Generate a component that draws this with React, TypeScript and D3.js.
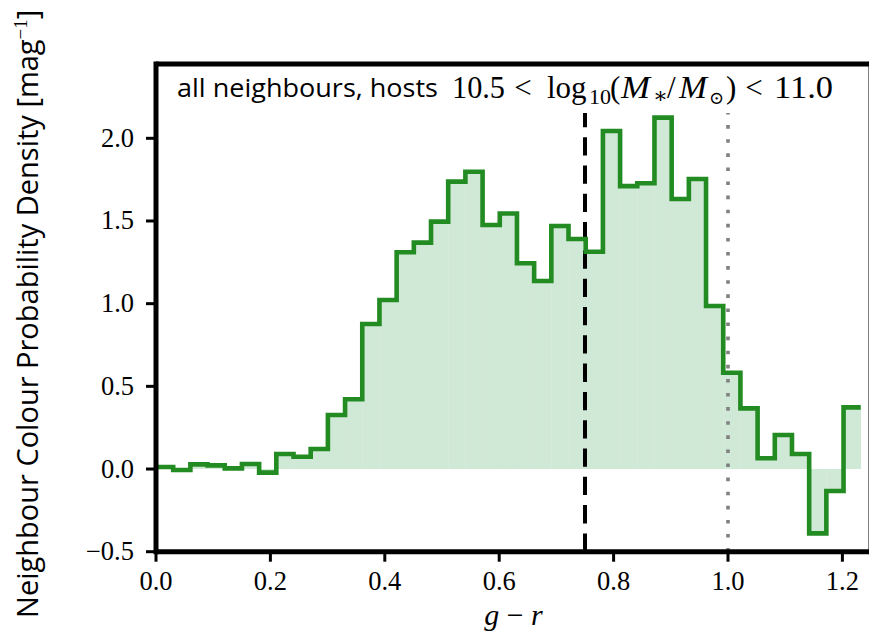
import React from "react";
import * as d3 from "d3";

// Histogram of neighbour g-r colours (probability density per bin)
const BIN_START = 0.0;
const BIN_WIDTH = 0.03005;
const DENSITY = [
  0.012, -0.006, 0.028, 0.022, 0.004, 0.03, -0.022, 0.091, 0.074, 0.121,
  0.327, 0.422, 0.877, 1.022, 1.311, 1.369, 1.496, 1.738, 1.798, 1.476,
  1.545, 1.244, 1.137, 1.47, 1.391, 1.314, 2.044, 1.711, 1.728, 2.125,
  1.633, 1.754, 0.986, 0.582, 0.367, 0.065, 0.206, 0.091, -0.389, -0.133,
  0.373,
];

const X_TICKS = [0.0, 0.2, 0.4, 0.6, 0.8, 1.0, 1.2];
const Y_TICKS = [-0.5, 0.0, 0.5, 1.0, 1.5, 2.0];
const RED_SEQUENCE_CUT = 0.75;
const COLOUR_LIMIT = 1.0;

const W = 869;
const H = 641;
const LEFT = 156;
const RIGHT = 871;
const TOP = 63.9;
const BOTTOM = 551.7;

const SERIF = "'Liberation Serif', 'DejaVu Serif', serif";
const SANS = "'Open Sans', 'DejaVu Sans', sans-serif";

const fmt = (v: number) => (v < 0 ? "\u2212" : "") + Math.abs(v).toFixed(1);

export default function App() {
  const x = d3.scaleLinear().domain([0, 1.25]).range([LEFT, RIGHT]);
  const y = d3.scaleLinear().domain([-0.5, 2.45]).range([BOTTOM, TOP]);

  const bins = DENSITY.map((v, i) => ({
    x0: BIN_START + i * BIN_WIDTH,
    x1: BIN_START + (i + 1) * BIN_WIDTH,
    v,
  }));

  // step outline
  const pts: [number, number][] = [];
  bins.forEach((b) => {
    pts.push([x(b.x0), y(b.v)]);
    pts.push([x(b.x1), y(b.v)]);
  });
  const linePath = d3.line()(pts) as string;

  const y0 = y(0);
  const mathSize = 31;
  const subSize = 22;
  const base = 98;

  return (
    <svg
      width={W}
      height={H}
      style={{ position: "absolute", left: 0, top: 0, background: "#fff" }}
    >
      <rect x={0} y={0} width={W} height={H} fill="#fff" />
      {/* filled bars */}
      <g>
        {bins.map((b, i) => (
          <rect
            key={i}
            x={x(b.x0)}
            width={x(b.x1) - x(b.x0) + 0.3}
            y={Math.min(y(b.v), y0)}
            height={Math.abs(y(b.v) - y0)}
            fill="rgb(208,232,214)"
          />
        ))}
      </g>
      {/* reference colours */}
      <line
        x1={x(RED_SEQUENCE_CUT)}
        x2={x(RED_SEQUENCE_CUT)}
        y1={BOTTOM}
        y2={113}
        stroke="#000"
        strokeWidth={4}
        strokeDasharray="18.3 10"
      />
      <line
        x1={x(COLOUR_LIMIT)}
        x2={x(COLOUR_LIMIT)}
        y1={BOTTOM}
        y2={113}
        stroke="#808080"
        strokeWidth={3.6}
        strokeDasharray="3.6 10.5"
      />
      <path
        d={linePath}
        fill="none"
        stroke="#228b22"
        strokeWidth={4.6}
        strokeLinejoin="miter"
      />

      {/* frame */}
      <line x1={LEFT} x2={RIGHT} y1={TOP} y2={TOP} stroke="#000" strokeWidth={5} />
      <line x1={LEFT} x2={RIGHT} y1={BOTTOM} y2={BOTTOM} stroke="#000" strokeWidth={5} />
      <line x1={LEFT} x2={LEFT} y1={TOP - 2.5} y2={BOTTOM + 2.5} stroke="#000" strokeWidth={5} />
      <line x1={RIGHT} x2={RIGHT} y1={TOP - 2.5} y2={BOTTOM + 2.5} stroke="#000" strokeWidth={5} />

      {/* x axis */}
      {X_TICKS.map((t) => (
        <g key={"x" + t}>
          <line x1={x(t)} x2={x(t)} y1={BOTTOM} y2={BOTTOM + 10} stroke="#000" strokeWidth={3} />
          <text
            x={x(t)}
            y={590}
            textAnchor="middle"
            fontFamily={SERIF}
            fontSize={26.5}
            fill="#000"
          >
            {fmt(t)}
          </text>
        </g>
      ))}
      {/* y axis */}
      {Y_TICKS.map((t) => (
        <g key={"y" + t}>
          <line x1={LEFT - 10} x2={LEFT} y1={y(t)} y2={y(t)} stroke="#000" strokeWidth={3} />
          <text
            x={134}
            y={y(t) + 8.5}
            textAnchor="end"
            fontFamily={SERIF}
            fontSize={26.5}
            fill="#000"
          >
            {fmt(t)}
          </text>
        </g>
      ))}

      {/* axis titles */}
      <text
        x={(LEFT + RIGHT) / 2}
        y={625}
        textAnchor="middle"
        fontFamily={SERIF}
        fontSize={30}
        fill="#000"
      >
        <tspan fontStyle="italic">g</tspan>
        <tspan> {"\u2212"} </tspan>
        <tspan fontStyle="italic">r</tspan>
      </text>
      <text
        transform={`translate(38, ${(TOP + BOTTOM) / 2 + 6}) rotate(-90)`}
        textAnchor="middle"
        fontFamily={SANS}
        fontSize={29}
        fill="#000"
      >
        Neighbour Colour Probability Density [mag
        <tspan dy={-11} fontSize={19} fontFamily={SERIF}>{"\u22121"}</tspan>
        <tspan dy={11}>]</tspan>
      </text>

      {/* panel title */}
      <rect x={170} y={68} width={675} height={44} fill="#fff" />
      <text x={177} y={97} fontFamily={SANS} fontSize={26} fill="#000" textLength={261} lengthAdjust="spacingAndGlyphs">
        all neighbours, hosts
      </text>
      <g fontFamily={SERIF} fontSize={mathSize} fill="#000">
        <text x={452} y={base} textLength={53} lengthAdjust="spacingAndGlyphs">10.5</text>
        <text x={523} y={base} textAnchor="middle">&lt;</text>
        <text x={547} y={base}>log</text>
        <text x={589} y={base + 6} fontSize={subSize}>10</text>
        <text x={610} y={base}>(</text>
        <text x={621} y={base} fontStyle="italic" textLength={29} lengthAdjust="spacingAndGlyphs">M</text>
        <text x={653} y={base + 5} fontSize={subSize}>{"\u2217"}</text>
        <text x={667} y={base}>/</text>
        <text x={679} y={base} fontStyle="italic" textLength={28} lengthAdjust="spacingAndGlyphs">M</text>
        <text x={709} y={base + 6} fontSize={18}>{"\u2299"}</text>
        <text x={726} y={base}>)</text>
        <text x={754} y={base} textAnchor="middle">&lt;</text>
        <text x={774} y={base} textLength={59} lengthAdjust="spacingAndGlyphs">11.0</text>
      </g>
    </svg>
  );
}
